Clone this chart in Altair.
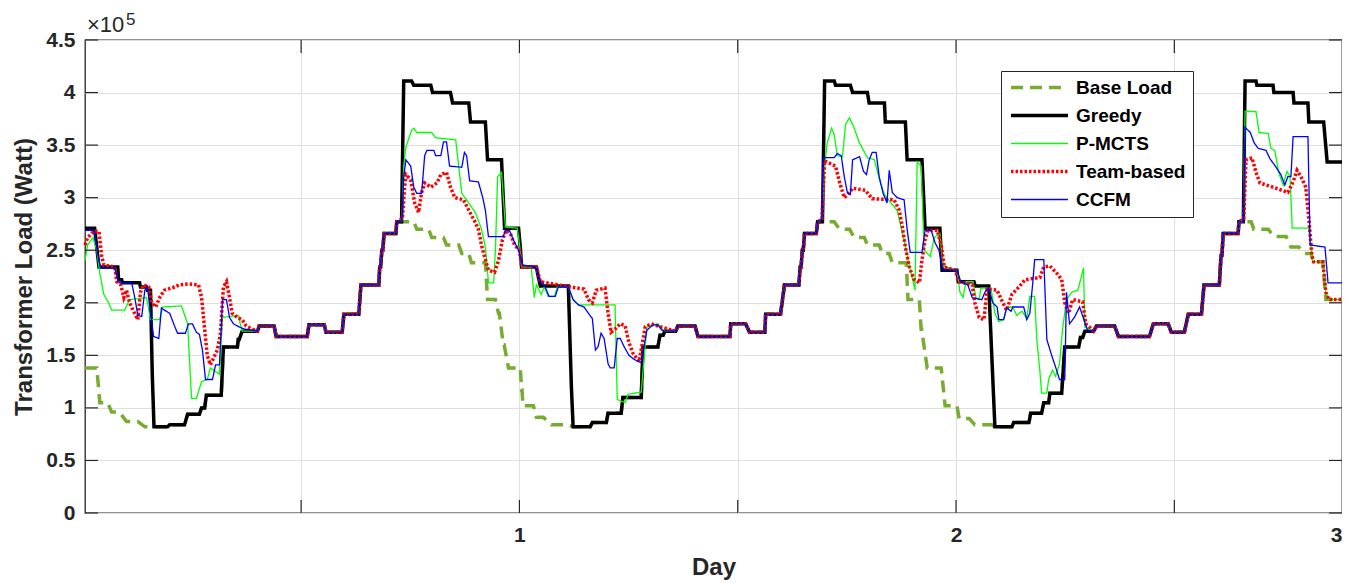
import altair as alt
import pandas as pd

FONT = "Liberation Sans, Arial, sans-serif"

# ---------------- series styling / legend order ----------------
series_names = ["Base Load", "Greedy", "P-MCTS", "Team-based", "CCFM"]
series_colors = ["#77AC30", "#000000", "#00FF00", "#FF0000", "#0000FF"]
series_dash = [[12, 7], [1, 0], [1, 0], [2.5, 2], [1, 0]]
series_width = [3.5, 3.5, 1.3, 3.5, 1.3]

# ---------------- axes ----------------
x_min, x_max = 0.5, 288.4          # time slot index (15-min slots)
y_ticks = [0, 0.5, 1, 1.5, 2, 2.5, 3, 3.5, 4, 4.5]   # x 10^5 W
x_ticks = [50, 100, 150, 200, 250]
x_label_ticks = [50, 100, 150, 200, 250, 288.4]
x_tick_labels = ["", "1", "", "2", "", "3"]

# ---------------- Base Load: constant runs (start slot, end slot, load x1e5 W) ----------------
base_runs = [
    (0.5, 3.2, 1.38), (3.9, 5.7, 1.05), (6.6, 8.4, 0.96), (10.0, 12.6, 0.87),
    (14.2, 19.4, 0.82), (19.9, 23.3, 0.84), (24.0, 26.7, 0.94), (27.2, 27.9, 1.00),
    (28.3, 31.7, 1.12), (32.2, 35.4, 1.58), (35.6, 35.8, 1.65), (36.5, 40.0, 1.73),
    (40.4, 43.8, 1.78), (44.3, 51.4, 1.68), (51.8, 55.3, 1.79), (55.7, 59.4, 1.72),
    (59.8, 63.2, 1.89), (63.7, 67.8, 2.17), (68.0, 68.2, 2.34), (68.5, 68.7, 2.50),
    (69.0, 71.7, 2.66), (71.9, 75.8, 2.77), (76.5, 79.2, 2.70), (79.9, 82.6, 2.62),
    (83.3, 86.1, 2.55), (86.8, 88.4, 2.47), (89.0, 92.2, 2.38), (92.7, 94.5, 2.03),
    (95.2, 95.4, 1.90), (96.3, 96.5, 1.60), (97.5, 100.2, 1.38), (100.5, 100.6, 1.17),
    (100.8, 103.2, 1.02), (103.9, 105.5, 0.91), (107.3, 111.2, 0.84), (112.3, 116.2, 0.82),
    (116.7, 119.9, 0.86), (120.3, 123.3, 0.95), (123.7, 127.9, 1.10), (128.3, 131.7, 1.58),
    (132.2, 132.9, 1.69), (133.3, 135.8, 1.73), (136.3, 140.2, 1.78), (140.9, 148.2, 1.68),
    (148.4, 151.8, 1.80), (152.7, 156.2, 1.72), (156.4, 159.8, 1.89), (160.7, 164.0, 2.17),
    (164.3, 164.5, 2.34), (164.8, 165.0, 2.50), (165.3, 168.0, 2.66), (168.3, 172.1, 2.77),
    (173.3, 175.6, 2.70), (176.7, 179.0, 2.62), (179.7, 182.4, 2.55), (183.1, 184.7, 2.47),
    (185.4, 188.6, 2.38), (189.0, 191.6, 2.03), (192.0, 192.1, 1.75), (193.4, 196.6, 1.38),
    (197.5, 200.2, 1.02), (200.7, 203.0, 0.90), (204.3, 208.2, 0.84), (208.9, 212.8, 0.82),
    (213.2, 216.7, 0.86), (217.1, 219.6, 0.95), (220.1, 221.2, 1.05), (221.5, 224.2, 1.14),
    (224.9, 228.1, 1.58), (228.5, 229.0, 1.67), (229.5, 231.5, 1.73), (232.2, 236.3, 1.78),
    (237.2, 244.3, 1.68), (245.2, 248.6, 1.80), (249.3, 252.3, 1.72), (253.2, 256.2, 1.89),
    (256.8, 260.3, 2.17), (260.7, 260.9, 2.45), (261.2, 264.6, 2.66), (264.8, 267.6, 2.77),
    (268.2, 271.5, 2.70), (272.8, 275.6, 2.63), (276.7, 278.5, 2.53), (279.8, 281.3, 2.47),
    (281.9, 284.0, 2.39), (284.7, 288.4, 2.03),
]

# ---------------- Greedy (own points; equals base load inside greedy_windows) ----------------
greedy_x = [0.5, 2.7, 3.7, 8.0, 8.2, 8.9, 9.1, 13.0, 13.2, 14.6, 14.8, 15.5, 15.9, 16.3,
            73.0, 73.5, 75.3, 75.8, 79.7, 80.1, 84.2, 84.7, 88.4, 88.8, 92.2, 92.7, 95.9, 96.6,
            99.8, 100.2, 100.5, 103.9, 104.3, 104.8, 111.2, 111.9,
            169.4, 169.9, 172.1, 172.4, 175.8, 176.3, 179.7, 180.1, 183.6, 183.8, 188.4, 188.8,
            192.2, 192.9, 196.3, 196.8, 200.2, 200.5, 204.1, 204.4, 207.5, 208.3,
            265.8, 266.2, 268.7, 268.9, 272.6, 272.8, 277.2, 277.4, 280.6, 280.8, 284.2, 285.0, 288.4]
greedy_y = [2.71, 2.71, 2.34, 2.34, 2.22, 2.22, 2.19, 2.19, 2.15, 2.15, 2.12, 2.12, 1.33, 0.82,
            2.77, 4.11, 4.11, 4.07, 4.07, 4.00, 4.00, 3.90, 3.90, 3.72, 3.72, 3.36, 3.36, 2.71,
            2.71, 2.53, 2.34, 2.34, 2.25, 2.16, 2.16, 1.20,
            2.77, 4.11, 4.11, 4.07, 4.07, 4.00, 4.00, 3.90, 3.90, 3.72, 3.72, 3.36,
            3.36, 2.71, 2.71, 2.31, 2.31, 2.20, 2.20, 2.16, 2.16, 1.39,
            2.77, 4.11, 4.11, 4.07, 4.07, 4.00, 4.00, 3.90, 3.90, 3.72, 3.72, 3.34, 3.34]
greedy_windows = [(16.4, 72.95), (112.3, 169.05), (208.9, 265.65)]

# ---------------- P-MCTS ----------------
pmcts_x = [0.5, 1.1, 2.3, 3.2, 3.9, 4.8, 5.9, 6.6, 9.6, 10.7, 14.6, 15.5, 17.6, 18.3, 22.6, 24.0,
           24.9, 26.0, 27.2, 28.5, 29.2, 29.9, 31.3, 32.0, 35.6, 36.3,
           73.1, 73.5, 74.0, 75.3, 75.8, 76.5, 79.9, 80.8, 85.4, 86.1, 86.8, 88.4, 90.0, 91.3,
           92.2, 92.7, 92.9, 94.1, 94.5, 95.0, 95.9, 96.8, 99.5, 100.2, 100.5, 102.7, 103.4, 103.9,
           105.0, 105.7, 106.6, 108.0, 108.7, 111.2, 112.3, 113.5, 121.9, 122.4, 124.2, 124.9,
           127.9, 128.5, 129.2, 131.7, 132.9,
           169.3, 169.9, 170.5, 171.5, 172.1, 172.8, 174.0, 174.7, 175.6, 176.5, 177.9, 178.8,
           179.7, 181.3, 182.6, 183.6, 184.9, 186.5, 188.1, 189.3, 190.2, 190.6, 191.1, 192.0,
           192.7, 194.1, 195.0, 196.3, 197.0, 200.2, 200.9, 201.6, 202.3, 203.9, 204.6, 205.3,
           205.7, 208.0, 208.9, 209.8, 210.9, 211.6, 213.0, 213.9, 215.1, 216.2, 216.9, 218.0,
           218.5, 219.2, 219.6, 220.8, 221.2, 222.1, 222.8, 223.7, 224.4, 225.3, 226.5, 227.9,
           229.2, 229.5, 230.4,
           265.8, 266.2, 268.7, 269.4, 271.5, 272.1, 273.0, 273.9, 274.9, 275.8, 276.5, 277.0,
           280.8, 281.7, 284.0, 284.7, 285.4, 288.4]
pmcts_y = [2.40, 2.55, 2.62, 2.50, 2.28, 2.08, 2.00, 1.93, 1.93, 2.03, 2.05, 1.84, 1.84, 1.96, 1.97, 1.80,
           1.09, 1.09, 1.25, 1.27, 1.38, 1.36, 1.32, 1.86, 1.88, 1.76,
           2.78, 3.30, 3.48, 3.64, 3.66, 3.62, 3.62, 3.57, 3.55, 3.30, 3.04, 2.95, 2.85, 2.70,
           2.53, 2.30, 2.19, 2.19, 2.50, 3.20, 3.24, 2.72, 2.71, 2.50, 2.34, 2.34, 2.05, 2.17,
           2.08, 2.15, 2.06, 2.06, 2.15, 2.15, 2.03, 1.98, 1.98, 1.08, 1.05, 1.13,
           1.15, 1.45, 1.77, 1.80, 1.74,
           2.80, 3.30, 3.52, 3.66, 3.60, 3.40, 3.39, 3.70, 3.76, 3.68, 3.52, 3.45,
           3.38, 3.36, 3.15, 3.03, 2.96, 2.88, 2.60, 2.35, 2.20, 2.12, 3.34, 3.30,
           2.50, 2.44, 2.62, 2.66, 2.35, 2.31, 2.10, 2.05, 2.20, 2.20, 2.04, 2.03,
           2.14, 2.14, 1.90, 1.82, 1.84, 1.96, 1.96, 1.88, 1.92, 1.85, 2.06, 2.06,
           1.65, 1.35, 1.14, 1.14, 1.27, 1.36, 1.30, 1.42, 1.75, 2.03, 2.10, 2.12,
           2.33, 1.77, 1.75,
           2.77, 3.82, 3.82, 3.62, 3.61, 3.47, 3.45, 3.24, 3.12, 3.25, 3.20, 2.71,
           2.71, 2.39, 2.39, 2.10, 2.03, 2.03]
pmcts_windows = [(36.4, 72.95), (133.2, 169.05), (230.6, 265.65)]

# ---------------- Team-based ----------------
team_x = [0.5, 1.1, 2.5, 3.7, 4.3, 4.8, 7.3, 7.8, 8.7, 9.4, 10.0, 10.7, 11.6, 12.6, 13.2, 13.9,
          15.1, 15.8, 16.7, 17.6, 18.7, 21.0, 22.1, 24.4, 26.5, 27.2, 27.9, 28.5, 29.2, 29.9,
          30.8, 31.5, 32.2, 32.9, 33.6, 34.2, 35.4, 36.5, 37.4, 38.8,
          73.2, 73.7, 74.0, 75.1, 76.0, 76.9, 77.6, 78.3, 79.7, 81.1, 82.0, 83.3, 84.2, 85.2,
          87.2, 88.4, 89.7, 90.6, 91.3, 92.0, 92.9, 94.3, 95.2, 96.1, 97.0, 97.9, 98.9, 100.0,
          100.5, 103.9, 104.8, 108.9, 111.9, 114.8, 115.8, 116.7, 117.6, 119.6, 120.3, 121.0,
          121.9, 123.1, 124.2, 125.1, 126.0, 127.4, 128.1, 128.8, 130.1, 132.4, 134.0,
          169.3, 169.9, 172.4, 173.3, 174.4, 175.6, 176.3, 179.2, 180.8, 185.8, 187.0, 187.7,
          188.4, 189.3, 190.4, 191.6, 192.2, 192.9, 193.6, 195.7, 196.6, 197.3, 199.8, 200.7,
          203.7, 204.3, 205.3, 206.4, 207.1, 209.4, 210.5, 211.6, 212.8, 214.4, 215.8, 219.2,
          220.1, 221.5, 223.1, 224.2, 224.9, 225.8, 226.7, 229.0, 229.7, 230.8,
          265.9, 266.4, 267.8, 268.7, 269.6, 272.6, 276.0, 277.2, 278.1, 279.0, 280.1, 280.8,
          281.5, 281.9, 284.0, 284.7, 285.4, 288.4]
team_y = [2.55, 2.62, 2.68, 2.68, 2.45, 2.36, 2.34, 2.20, 2.17, 2.05, 2.12, 2.00, 1.92, 1.84, 2.10, 2.17,
          2.15, 2.00, 1.96, 2.05, 2.12, 2.15, 2.17, 2.18, 2.17, 2.05, 1.75, 1.50, 1.41, 1.47,
          1.55, 1.70, 2.15, 2.20, 2.05, 1.90, 1.86, 1.84, 1.78, 1.75,
          2.80, 3.10, 3.22, 3.17, 2.95, 2.86, 3.05, 3.14, 3.10, 3.14, 3.22, 3.24, 3.10, 3.00,
          2.98, 2.88, 2.78, 2.70, 2.55, 2.44, 2.31, 2.29, 2.40, 2.60, 2.69, 2.66, 2.55, 2.50,
          2.34, 2.34, 2.20, 2.17, 2.15, 2.13, 2.03, 2.00, 2.12, 2.14, 1.90, 1.72,
          1.75, 1.80, 1.78, 1.62, 1.52, 1.44, 1.60, 1.77, 1.80, 1.77, 1.75,
          2.80, 3.35, 3.30, 3.15, 3.00, 3.05, 3.09, 3.07, 2.99, 2.98, 2.88, 2.72,
          2.53, 2.34, 2.22, 2.19, 2.41, 2.60, 2.69, 2.69, 2.55, 2.34, 2.31, 2.20,
          2.17, 2.00, 1.86, 1.84, 2.13, 2.12, 2.02, 1.93, 2.08, 2.15, 2.22, 2.24,
          2.34, 2.35, 2.28, 2.22, 2.00, 1.90, 2.03, 2.01, 1.80, 1.76,
          2.80, 3.36, 3.38, 3.24, 3.14, 3.10, 3.05, 3.15, 3.26, 3.20, 3.10, 2.80,
          2.45, 2.39, 2.39, 2.10, 2.03, 2.03]
team_windows = [(39.5, 72.95), (134.5, 169.05), (231.3, 265.65)]

# ---------------- CCFM ----------------
ccfm_x = [0.5, 2.5, 3.7, 4.1, 7.3, 8.0, 8.4, 11.2, 11.9, 12.6, 13.5, 14.2, 14.8, 15.5, 16.2, 17.4,
          18.0, 18.7, 19.9, 21.0, 21.7, 23.5, 24.2, 25.1, 26.0, 26.7, 27.4, 28.1, 29.7, 30.4,
          31.3, 32.0, 32.9, 33.6, 34.5, 35.8, 37.0,
          73.1, 73.5, 74.0, 75.1, 75.8, 76.5, 77.6, 78.3, 78.8, 80.4, 80.8, 82.0, 82.6, 83.3,
          84.0, 86.8, 87.4, 87.9, 88.6, 90.6, 91.6, 92.2, 92.9, 96.3, 96.8, 97.7, 98.6, 99.8,
          100.7, 103.7, 104.6, 105.9, 106.8, 108.2, 108.9, 111.2, 112.3, 113.5, 114.8, 115.8,
          116.7, 117.4, 118.0, 118.7, 119.4, 120.3, 120.8, 121.7, 122.4, 123.1, 124.0, 125.1,
          126.3, 127.9, 128.6, 129.2, 130.6, 131.7, 132.6,
          169.3, 169.6, 172.1, 172.8, 173.7, 174.4, 175.1, 175.8, 176.3, 177.9, 178.8, 179.5,
          180.1, 180.8, 181.7, 182.4, 183.3, 184.2, 184.7, 185.4, 186.5, 188.1, 188.8, 189.5,
          192.2, 192.9, 194.3, 195.2, 196.1, 197.0, 200.2, 201.1, 202.7, 203.7, 205.9, 206.6,
          207.5, 208.4, 209.4, 209.8, 210.9, 211.6, 212.6, 213.0, 215.5, 216.2, 216.9, 217.6,
          218.0, 220.1, 220.8, 221.9, 223.1, 223.7, 224.9, 225.3, 226.0, 227.1, 228.3, 229.2,
          230.1,
          265.8, 266.2, 267.4, 268.3, 269.2, 271.0, 271.9, 272.8, 274.4, 275.3, 276.0, 276.7,
          277.2, 280.6, 281.1, 284.5, 285.2, 288.4]
ccfm_y = [2.69, 2.69, 2.40, 2.33, 2.33, 2.22, 2.19, 2.19, 2.05, 1.88, 1.87, 2.12, 2.15, 1.90, 1.68, 1.66,
          1.95, 1.93, 1.90, 1.78, 1.71, 1.71, 1.80, 1.80, 1.72, 1.70, 1.55, 1.27, 1.27, 1.41,
          1.41, 2.03, 2.03, 1.86, 1.80, 1.77, 1.75,
          2.78, 3.20, 3.36, 3.30, 3.10, 3.04, 3.04, 3.40, 3.45, 3.45, 3.40, 3.40, 3.53, 3.53,
          3.30, 3.29, 3.43, 3.40, 3.16, 3.15, 3.00, 2.88, 2.63, 2.63, 2.69, 2.69, 2.60, 2.50,
          2.36, 2.34, 2.22, 2.15, 2.06, 2.06, 2.15, 2.15, 2.03, 1.98, 1.96, 1.90,
          1.85, 1.55, 1.58, 1.71, 1.66, 1.42, 1.38, 1.38, 1.66, 1.66, 1.58, 1.50,
          1.46, 1.43, 1.60, 1.74, 1.79, 1.79, 1.74,
          2.80, 3.38, 3.38, 3.42, 3.40, 3.20, 3.05, 3.03, 3.36, 3.39, 3.25, 3.22,
          3.36, 3.43, 3.43, 3.20, 3.04, 2.95, 3.26, 3.05, 3.00, 2.98, 2.70, 2.48,
          2.48, 2.69, 2.69, 2.57, 2.50, 2.31, 2.31, 2.20, 2.17, 2.05, 2.03, 2.10,
          2.14, 2.00, 1.96, 1.84, 1.84, 1.95, 1.92, 1.96, 1.96, 1.84, 1.90, 2.20,
          2.41, 2.41, 1.65, 1.50, 1.35, 1.27, 1.27, 2.10, 1.80, 1.86, 1.96, 1.85,
          1.74,
          2.77, 3.67, 3.62, 3.52, 3.47, 3.45, 3.37, 3.32, 3.22, 3.12, 3.20, 3.20,
          3.58, 3.58, 2.55, 2.53, 2.19, 2.19]
ccfm_windows = [(37.5, 72.95), (133.2, 169.05), (230.6, 265.65)]


# ---------------- assemble table ----------------
def base_points():
    pts = []
    for s, e, v in base_runs:
        pts.append((s, v))
        if e != s:
            pts.append((e, v))
    return pts


def merged(xs, ys, windows):
    pts = list(zip(xs, ys))
    for a, b in windows:
        for s, e, v in base_runs:
            for x in (s, e):
                if a <= x <= b:
                    pts.append((x, v))
    pts = sorted(set(pts), key=lambda p: p[0])
    return pts


series_points = {
    "Base Load": base_points(),
    "Greedy": merged(greedy_x, greedy_y, greedy_windows),
    "P-MCTS": merged(pmcts_x, pmcts_y, pmcts_windows),
    "Team-based": merged(team_x, team_y, team_windows),
    "CCFM": merged(ccfm_x, ccfm_y, ccfm_windows),
}

rows = []
for name in series_names:
    for i, (x, y) in enumerate(series_points[name]):
        rows.append({"series": name, "slot": x, "load": y, "idx": i})
df = pd.DataFrame(rows)

# ---------------- encodings ----------------
label_expr = " : ".join(
    f"datum.value == {v} ? '{t}'" for v, t in zip(x_label_ticks, x_tick_labels) if t
) + " : ''"

x_scale = alt.Scale(domain=[x_min, x_max], nice=False, zero=False)
y_scale = alt.Scale(domain=[0, 4.5], nice=False, zero=False)

x_axis = alt.Axis(values=x_label_ticks, labelExpr=label_expr, title="Day",
                  grid=True, ticks=False, domain=False, labelPadding=11,
                  titlePadding=10, labelOverlap=False, labelFlush=False,
                  labelAlign={"condition": {"test": f"datum.value >= {x_max}", "value": "right"},
                              "value": "center"})
y_axis = alt.Axis(values=y_ticks, format="~g", title="Transformer Load (Watt)",
                  grid=True, ticks=False, domain=False, labelPadding=10,
                  titlePadding=9, labelOverlap=False)

x_enc = alt.X("slot:Q", scale=x_scale, axis=x_axis)
y_enc = alt.Y("load:Q", scale=y_scale, axis=y_axis)

width_signal = " : ".join(
    f"datum.value == '{n}' ? {w}" for n, w in zip(series_names, series_width)
) + " : 1"

legend = alt.Legend(
    title=None, orient="none", legendX=916, legendY=31, direction="vertical",
    symbolType="M-3,0H3", symbolSize=361, symbolOffset=22, labelOffset=27,
    padding=7, rowPadding=8, strokeColor="#262626", fillColor="white",
    labelFont=FONT, labelFontSize=19, labelFontWeight="bold", labelColor="#000000",
    labelLimit=300, symbolStrokeWidth={"expr": width_signal},
)

color_enc = alt.Color("series:N", scale=alt.Scale(domain=series_names, range=series_colors), legend=legend)
dash_enc = alt.StrokeDash("series:N", scale=alt.Scale(domain=series_names, range=series_dash), legend=legend)

line_layers = []
for i, name in enumerate(series_names):
    line_layers.append(
        alt.Chart(df)
        .transform_filter(alt.datum.series == name)
        .mark_line(strokeWidth=series_width[i], strokeCap="butt")
        .encode(x=x_enc, y=y_enc, order="idx:Q", color=color_enc, strokeDash=dash_enc)
    )

# inward tick marks on all four sides (MATLAB box style)
TICK = "#262626"
W, H, TL = 1257, 473, 13
yt = pd.DataFrame({"load": y_ticks})
xt = pd.DataFrame({"slot": x_ticks})
tick_layers = [
    alt.Chart(yt).mark_rule(color=TICK, strokeWidth=1.2).encode(
        y=y_enc, x=alt.value(0), x2=alt.value(TL)),
    alt.Chart(yt).mark_rule(color=TICK, strokeWidth=1.2).encode(
        y=y_enc, x=alt.value(W - TL), x2=alt.value(W)),
    alt.Chart(xt).mark_rule(color=TICK, strokeWidth=1.2).encode(
        x=x_enc, y=alt.value(H), y2=alt.value(H - TL)),
    alt.Chart(xt).mark_rule(color=TICK, strokeWidth=1.2).encode(
        x=x_enc, y=alt.value(0), y2=alt.value(TL)),
]

# exponent label "x10^5"
exp_base = alt.Chart(pd.DataFrame({"t": ["×10"]})).mark_text(
    align="left", baseline="alphabetic", font=FONT, fontSize=22, color=TICK
).encode(text="t:N", x=alt.value(2), y=alt.value(-8))
exp_pow = alt.Chart(pd.DataFrame({"t": ["5"]})).mark_text(
    align="left", baseline="alphabetic", font=FONT, fontSize=17, color=TICK
).encode(text="t:N", x=alt.value(41), y=alt.value(-15))

chart = (
    alt.layer(*line_layers, *tick_layers, exp_base, exp_pow)
    .properties(width=W, height=H,
                padding={"left": 77, "top": 32, "right": 0, "bottom": 70},
                autosize=alt.AutoSizeParams(type="none"))
    .configure_view(stroke="#262626", strokeWidth=1.3)
    .configure_axis(labelFont=FONT, labelFontSize=21, labelFontWeight="bold", labelColor="#262626",
                    titleFont=FONT, titleFontSize=24, titleFontWeight="bold", titleColor="#262626",
                    gridColor="#DFDFDF", gridWidth=1)
)

chart.save("out.html", embed_options={"renderer": "svg", "actions": False})
